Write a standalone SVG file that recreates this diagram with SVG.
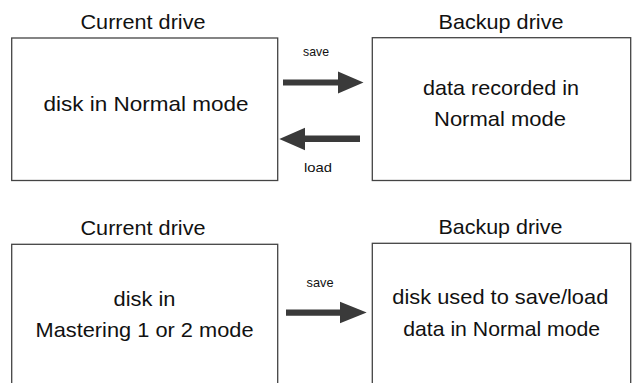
<svg xmlns="http://www.w3.org/2000/svg" width="632" height="383" viewBox="0 0 632 383">
<style>
.box{fill:#fff;stroke:#444;stroke-width:1.3}
.t{font-family:"Liberation Sans",Arial,sans-serif;fill:#111;text-anchor:middle}
.b{font-size:21px}
.s{font-size:13.5px}
.arr{fill:#3a3a3a}
</style>
<rect width="632" height="383" fill="#fff"/>
<g id="top-current">
<text class="t b" x="143" y="29.3" textLength="125" lengthAdjust="spacingAndGlyphs">Current drive</text>
<rect class="box" x="11.7" y="38" width="266" height="142.5"/>
<text class="t b" x="146" y="111" textLength="205" lengthAdjust="spacingAndGlyphs">disk in Normal mode</text>
</g>
<g id="top-backup">
<text class="t b" x="501" y="28.5" textLength="125" lengthAdjust="spacingAndGlyphs">Backup drive</text>
<rect class="box" x="372.3" y="37.7" width="258.4" height="142.8"/>
<text class="t b" x="501" y="95.2" textLength="156" lengthAdjust="spacingAndGlyphs">data recorded in</text>
<text class="t b" x="500" y="126" textLength="132" lengthAdjust="spacingAndGlyphs">Normal mode</text>
</g>
<g id="bottom-current">
<text class="t b" x="143" y="235" textLength="125" lengthAdjust="spacingAndGlyphs">Current drive</text>
<rect class="box" x="11.7" y="244.3" width="266" height="150"/>
<text class="t b" x="144.5" y="305.7" textLength="62" lengthAdjust="spacingAndGlyphs">disk in</text>
<text class="t b" x="144.5" y="337.3" textLength="218" lengthAdjust="spacingAndGlyphs">Mastering 1 or 2 mode</text>
</g>
<g id="bottom-backup">
<text class="t b" x="500.5" y="233.5" textLength="124" lengthAdjust="spacingAndGlyphs">Backup drive</text>
<rect class="box" x="372.3" y="243.3" width="258.4" height="150"/>
<text class="t b" x="500.3" y="304.2" textLength="216" lengthAdjust="spacingAndGlyphs">disk used to save/load</text>
<text class="t b" x="501.7" y="335.8" textLength="197" lengthAdjust="spacingAndGlyphs">data in Normal mode</text>
</g>
<g id="connectors">
<polygon class="arr" points="283,79.5 338,79.5 338,71.5 363.5,82.5 338,93.5 338,85.5 283,85.5"/>
<text class="t s" x="316" y="56" textLength="26" lengthAdjust="spacingAndGlyphs">save</text>
<polygon class="arr" points="360,135.5 305,135.5 305,127.7 279.3,139 305,150.3 305,142 360,142"/>
<text class="t s" x="318" y="172" textLength="28" lengthAdjust="spacingAndGlyphs">load</text>
<polygon class="arr" points="286,309.5 340,309.5 340,301.7 366.7,312.5 340,323.3 340,315.8 286,315.8"/>
<text class="t s" x="320" y="287" textLength="27" lengthAdjust="spacingAndGlyphs">save</text>
</g>
</svg>
